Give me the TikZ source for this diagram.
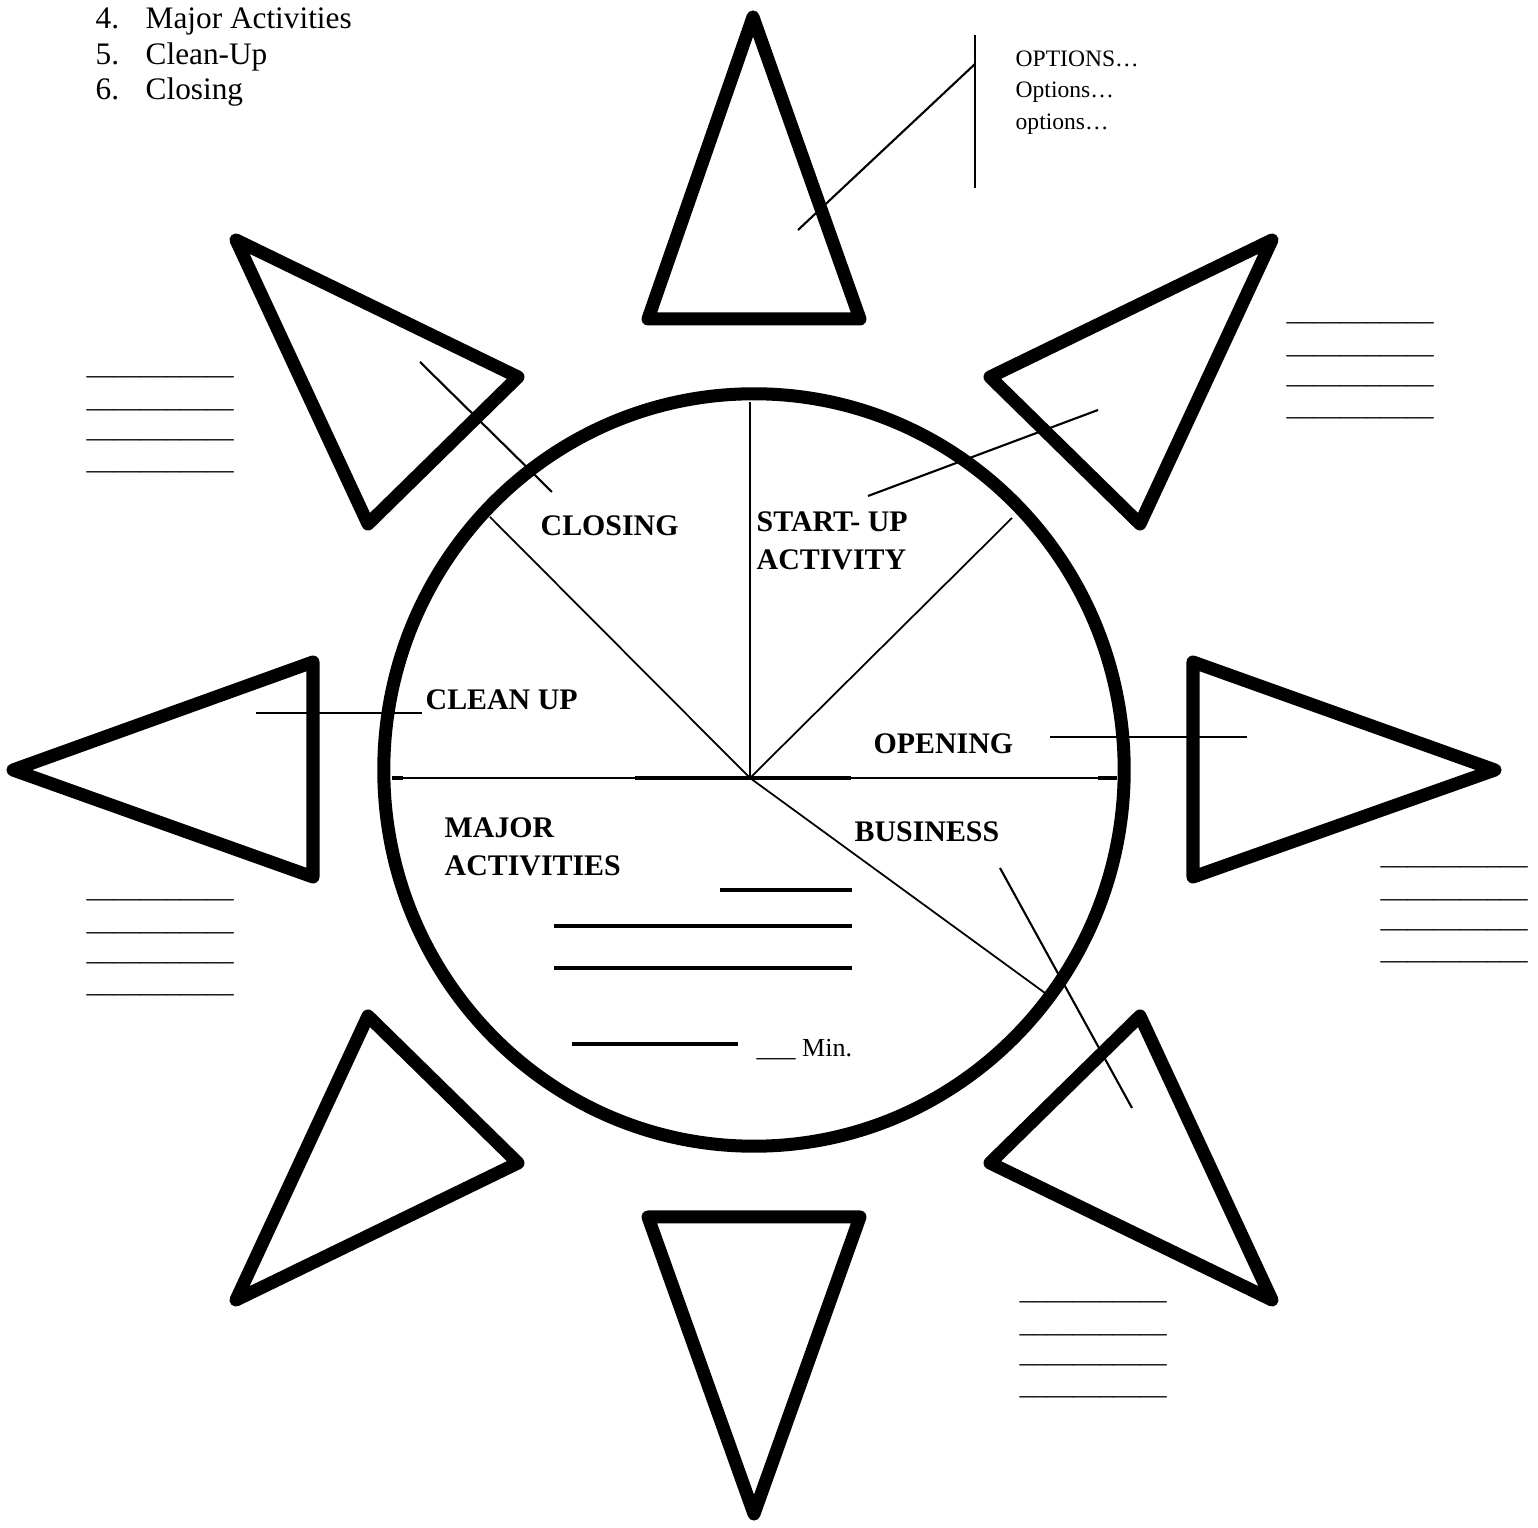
\documentclass[tikz,border=0pt]{standalone}
\usepackage{fontspec}
\setmainfont{Liberation Serif}
\newcommand{\blankline}{\_\_\_\_\_\_\_\_\_\_\_}

\begin{document}
\begin{tikzpicture}[x=0.01cm,y=-0.01cm,
    rayline/.style={line width=3.7pt,line join=round,line cap=round},
    spokeline/.style={line width=0.5pt},
    calloutline/.style={line width=0.6pt},
    fillline/.style={line width=1.15pt},
    seclabel/.style={anchor=base west,inner sep=0pt,font=\fontsize{8.5}{10}\selectfont\bfseries},
    listtext/.style={anchor=base west,inner sep=0pt,font=\fontsize{8.9}{10}\selectfont},
    notetext/.style={anchor=base west,inner sep=0pt,font=\fontsize{6.7}{8}\selectfont},
    blanktext/.style={anchor=base west,inner sep=0pt,font=\fontsize{7.6}{9}\selectfont}]
    \useasboundingbox (0,0) rectangle (1538,1528);

    % list at the top
    \foreach \n/\txt [count=\i] in {4/Major Activities, 5/Clean-Up, 6/Closing} {
        \node[listtext] (num\n) at (95,{29+35.5*(\i-1)}) {\n.};
        \node[listtext] (item\n) at (145,{29+35.5*(\i-1)}) {\txt};
    }

    % the eight rays
    \foreach \ax/\ay/\bx/\by/\cx/\cy in {753/17/648/319/860/319, 1272/240/990/377/1140/524,
            1495/770/1193/662/1193/877, 1272/1300/990/1163/1140/1016,
            754/1514/648/1217/860/1217, 236/1300/518/1163/368/1016,
            13/770/313/662/313/877, 236/240/518/377/368/524} {
        \draw[rayline] (\ax,\ay) -- (\bx,\by) -- (\cx,\cy) -- cycle;
    }

    % the wheel
    \coordinate (mid) at (754,770);
    \draw[rayline] (mid) ellipse [x radius=3.70cm, y radius=3.76cm];
    \coordinate (hub) at (750,778);
    \coordinate (rimN) at (750,402);
    \coordinate (rimNW) at (490,517);
    \coordinate (rimNE) at (1012,518);
    \coordinate (rimSE) at (1045,993);
    \coordinate (rimW) at (392,778);
    \coordinate (rimE) at (1117,778);
    \draw[spokeline] (hub) -- (rimN);
    \draw[spokeline] (hub) -- (rimNW);
    \draw[spokeline] (hub) -- (rimNE);
    \draw[spokeline] (hub) -- (rimSE);
    \draw[spokeline] (rimW) -- (rimE);
    \draw[line width=0.9pt] (635,778) -- (851,778);
    \draw[line width=0.9pt] (rimW) -- (403,778);
    \draw[line width=0.9pt] (1098,778) -- (rimE);

    % section labels
    \node[seclabel] (closing) at (540,536) {CLOSING};
    \node[seclabel] (startup) at (756,532) {START- UP};
    \node[seclabel] (activity) at (756,570) {ACTIVITY};
    \node[seclabel] (cleanup) at (425,710) {CLEAN UP};
    \node[seclabel] (opening) at (873,754) {OPENING};
    \node[seclabel] (major) at (444,838) {MAJOR};
    \node[seclabel] (activities) at (444,876) {ACTIVITIES};
    \node[seclabel] (business) at (854,842) {BUSINESS};

    % call-out lines
    \coordinate (barTop) at (975,35);
    \coordinate (barBot) at (975,188);
    \coordinate (barHit) at (975,64);
    \draw[calloutline] (barTop) -- (barBot);
    \draw[calloutline] (798,230) -- (barHit);
    \draw[calloutline] (420,362) -- (552,492);
    \draw[calloutline] (868,496) -- (1098,410);
    \draw[calloutline] (256,713) -- (422,713);
    \draw[calloutline] (1050,737) -- (1247,737);
    \draw[calloutline] (1000,868) -- (1132,1108);

    % options note
    \node[notetext] (opt1) at (1015,67) {OPTIONS…};
    \node[notetext] (opt2) at (1015,98) {Options…};
    \node[notetext] (opt3) at (1015,130) {options…};

    % fill-in lines for major activities
    \draw[fillline] (720,890) -- (852,890);
    \draw[fillline] (554,926) -- (852,926);
    \draw[fillline] (554,968) -- (852,968);
    \draw[fillline] (572,1044) -- (738,1044);
    \node[anchor=base west,inner sep=0pt,font=\fontsize{7.4}{9}\selectfont] (minutes) at (756,1057) {\_\_\_ Min.};

    % blank lines beside the rays
    \foreach \bx/\by [count=\k] in {86/378, 1286/324, 86/901, 1380/868, 1019/1303} {
        \foreach \dy [count=\j] in {0,33,63,95} {
            \node[blanktext] (blank\k-\j) at (\bx,{\by+\dy-3}) {\blankline};
        }
    }
\end{tikzpicture}
\end{document}
